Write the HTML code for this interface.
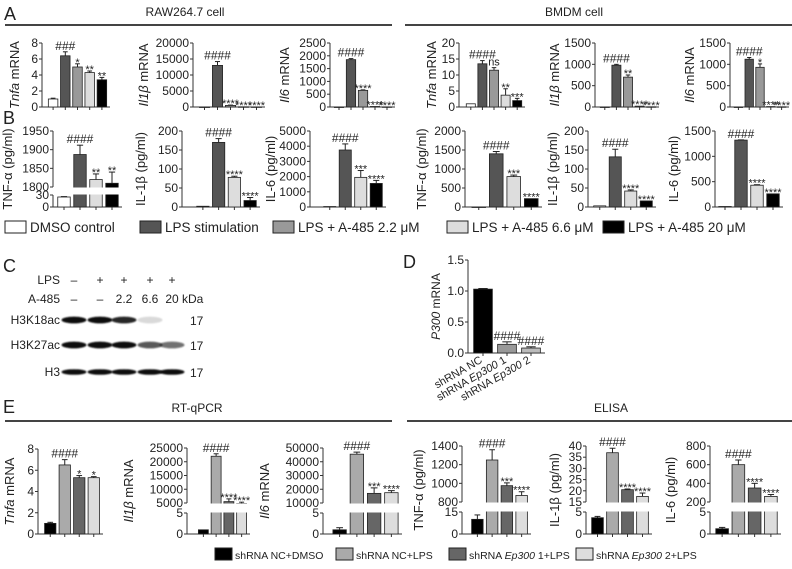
<!DOCTYPE html>
<html><head><meta charset="utf-8"><style>
html,body{margin:0;padding:0;background:#fff}
svg{display:block;font-family:"Liberation Sans",sans-serif}
</style></head><body>
<svg id="fig" width="792" height="569" viewBox="0 0 792 569" xmlns="http://www.w3.org/2000/svg">
<defs><filter id="blur" x="-20%" y="-50%" width="140%" height="200%"><feGaussianBlur stdDeviation="0.9"/></filter></defs>
</svg>
<script>
// ---- data ----
const aRawTnfa=[1,6.4,5,4.3,3.4], aRawTnfaErr=[0.1,0.5,0.4,0.2,0.3];
const aRawIl1b=[0,13000,500,60,30], aRawIl1bErr=[0,1200,100,0,0];
const aRawIl6=[0,1850,650,20,5], aRawIl6Err=[0,40,20,0,0];
const aBmTnfa=[1,13.5,11.5,3.7,2], aBmTnfaErr=[0,1,0.8,2,0.7];
const aBmIl1b=[0,980,700,20,5], aBmIl1bErr=[0,20,50,0,0];
const aBmIl6=[0,1120,930,10,5], aBmIl6Err=[0,40,80,0,0];
const bRawTnf=[25,1887,1820,1810], bRawTnfErr=[1,25,15,30];
const bRawIl1b=[2,170,78,17], bRawIl1bErr=[0,10,3,8];
const bRawIl6=[30,3750,1950,1550], bRawIl6Err=[0,400,450,200];
const bBmTnf=[0,1400,800,220], bBmTnfErr=[0,60,40,0];
const bBmIl1b=[3,132,42,16], bBmIl1bErr=[0,20,3,0];
const bBmIl6=[10,1320,430,260], bBmIl6Err=[0,5,10,0];
const dP300=[1.03,0.14,0.08], dP300Err=[0.01,0.04,0.02];
const eTnfa=[1,6.5,5.3,5.3], eTnfaErr=[0.1,0.5,0.2,0.1];
const eIl1b=[1,22000,5500,4800], eIl1bErr=[0,900,1000,500];
const eIl6=[1,45500,17000,17500], eIl6Err=[0.5,1500,4000,1500];
const eTnf=[10,1250,975,870], eTnfErr=[3,110,30,40];
const eIl1bP=[3.7,37,20.5,17.5], eIl1bPErr=[0.3,2,0.3,1.5];
const eIl6P=[1.2,600,350,260], eIl6PErr=[0.3,50,50,20];

const svg=document.getElementById('fig');
const NS='http://www.w3.org/2000/svg';
function el(tag,attrs,parent){const e=document.createElementNS(NS,tag);for(const k in attrs)e.setAttribute(k,attrs[k]);(parent||svg).appendChild(e);return e;}
function txt(s,x,y,size,opts,parent){opts=opts||{};const t=el('text',{x:x,y:y,'font-size':size,'text-anchor':opts.anchor||'start',fill:'#222'},parent);if(opts.italic)t.setAttribute('font-style','italic');if(opts.rot)t.setAttribute('transform','rotate('+opts.rot+' '+x+' '+y+')');t.textContent=s;return t;}

const C5=['#fff','#555','#999','#ddd','#000'];
const C4=['#fff','#555','#ddd','#000'];
const CE=['#000','#aaa','#666','#ddd'];

function chart(o){
  const g=el('g',{});
  
  
  const yTop=o.yTop,yBase=o.yBase,ax=o.ax,fs=o.fs||12;
  let yf;
  if(o.brk){
    const b=o.brk;
    yf=v=>v<=b.lowMax? yBase-v/b.lowMax*(yBase-b.lowTop) : b.highBot-(v-b.highMin)/(b.highMax-b.highMin)*(b.highBot-yTop);
    el('line',{x1:ax,y1:yBase,x2:ax,y2:b.lowTop,stroke:'#333','stroke-width':1},g);
    el('line',{x1:ax,y1:b.highBot,x2:ax,y2:yTop,stroke:'#333','stroke-width':1},g);
    b.lowTicks.concat(b.highTicks).forEach((t,i)=>{const y=yf(t);el('line',{x1:ax-3,y1:y,x2:ax,y2:y,stroke:'#333'},g);txt(String(t),ax-4,y+4,fs,{anchor:'end'},g);});
  } else {
    yf=v=>yBase-v/o.max*(yBase-yTop);
    el('line',{x1:ax,y1:yBase,x2:ax,y2:yTop,stroke:'#333','stroke-width':1},g);
    o.ticks.forEach((t,i)=>{const y=yf(t);el('line',{x1:ax-3,y1:y,x2:ax,y2:y,stroke:'#333'},g);txt(o.tickLabels?o.tickLabels[i]:String(t),ax-4,y+4,fs,{anchor:'end'},g);});
  }
  el('line',{x1:ax,y1:yBase,x2:o.bx1+2,y2:yBase,stroke:'#333'},g);
  const n=o.values.length,slot=(o.bx1-o.bx0)/n,bw=slot*0.78;
  o.values.forEach((v,i)=>{
    const cx=o.bx0+slot*(i+0.5),y=yf(v);
    el('line',{x1:cx,y1:yBase,x2:cx,y2:yBase+3,stroke:'#333'},g);
    const r=el('rect',{x:cx-bw/2,y:y,width:bw,height:Math.max(0.5,yBase-y),fill:o.colors[i],stroke:'#222','stroke-width':0.8},g);
    
    
    const e=o.errs[i];
    if(e>0){const ye=yf(v+e);el('line',{x1:cx,y1:y,x2:cx,y2:ye,stroke:'#222'},g);el('line',{x1:cx-bw/4,y1:ye,x2:cx+bw/4,y2:ye,stroke:'#222'},g);}
    if(o.brk && v>o.brk.lowMax){el('rect',{x:cx-bw/2-1,y:o.brk.highBot+0.5,width:bw+2,height:o.brk.lowTop-o.brk.highBot-1,fill:'#fff'},g);}
    const an=o.annots[i];
    if(an){const ay=(e>0?yf(v+e):y)-2;txt(an,cx,ay+(an[0]=='*'?4:0),an[0]=='#'?12:11,{anchor:'middle'},g);}
  });
  const lx=o.lx, ly=(yTop+yBase)/2;
  const t=el('text',{x:lx,y:ly,'font-size':o.lfs||13,'text-anchor':'middle',fill:'#222',transform:'rotate(-90 '+lx+' '+ly+')'},g);
  o.label.forEach(p=>{const s=el('tspan',{},t);if(p[1])s.setAttribute('font-style','italic');s.textContent=p[0];});
  return g;
}
const A4=['','####','****','****','****'];
// Panel A
chart({name:'a-raw-tnfa',ax:42,yTop:43,yBase:107,bx0:47,bx1:108,max:8,ticks:[0,2,4,6,8],values:aRawTnfa,errs:aRawTnfaErr,colors:C5,annots:['','###','*','**','**'],lx:19,label:[['Tnfa',1],[' mRNA',0]]});
chart({name:'a-raw-il1b',ax:193,yTop:43,yBase:107,bx0:198,bx1:263,max:20000,ticks:[0,5000,10000,15000,20000],values:aRawIl1b,errs:aRawIl1bErr,colors:C5,annots:A4,lx:148,label:[['Il1β',1],[' mRNA',0]]});
chart({name:'a-raw-il6',ax:330,yTop:43,yBase:107,bx0:333,bx1:393,max:2500,ticks:[0,500,1000,1500,2000,2500],values:aRawIl6,errs:aRawIl6Err,colors:C5,annots:A4,lx:289,label:[['Il6',1],[' mRNA',0]]});
chart({name:'a-bm-tnfa',ax:459,yTop:43,yBase:107,bx0:465,bx1:523,max:20,ticks:[0,5,10,15,20],values:aBmTnfa,errs:aBmTnfaErr,colors:C5,annots:['','####','ns','**','***'],lx:436,label:[['Tnfa',1],[' mRNA',0]]});
chart({name:'a-bm-il1b',ax:595,yTop:43,yBase:107,bx0:599,bx1:657,max:1500,ticks:[0,500,1000,1500],values:aBmIl1b,errs:aBmIl1bErr,colors:C5,annots:['','####','**','****','****'],lx:559,label:[['Il1β',1],[' mRNA',0]]});
chart({name:'a-bm-il6',ax:730,yTop:43,yBase:107,bx0:733,bx1:787,max:1500,ticks:[0,500,1000,1500],values:aBmIl6,errs:aBmIl6Err,colors:C5,annots:['','####','*','****','****'],lx:694,label:[['Il6',1],[' mRNA',0]]});
// Panel B
chart({name:'b-raw-tnf',ax:53,yTop:131,yBase:207,bx0:56,bx1:120,brk:{lowMax:30,lowTop:195,highBot:187,highMin:1800,highMax:1950,lowTicks:[0,30],highTicks:[1800,1850,1900,1950]},values:bRawTnf,errs:bRawTnfErr,colors:C4,annots:['','####','**','**'],lx:12,label:[['TNF-α (pg/ml)',0]]});
chart({name:'b-raw-il1b',ax:182,yTop:131,yBase:207,bx0:195,bx1:258,max:200,ticks:[0,50,100,150,200],values:bRawIl1b,errs:bRawIl1bErr,colors:C4,annots:['','####','****','****'],lx:145,label:[['IL-1β (pg/ml)',0]]});
chart({name:'b-raw-il6',ax:310,yTop:131,yBase:207,bx0:322,bx1:384,max:5000,ticks:[0,1000,2000,3000,4000,5000],values:bRawIl6,errs:bRawIl6Err,colors:C4,annots:['','####','***','****'],lx:275,label:[['IL-6 (pg/ml)',0]]});
chart({name:'b-bm-tnf',ax:465,yTop:131,yBase:207,bx0:470,bx1:540,max:2000,ticks:[0,500,1000,1500,2000],values:bBmTnf,errs:bBmTnfErr,colors:C4,annots:['','####','***','****'],lx:426,label:[['TNF-α (pg/ml)',0]]});
chart({name:'b-bm-il1b',ax:588,yTop:131,yBase:207,bx0:592,bx1:654,max:200,ticks:[0,50,100,150,200],values:bBmIl1b,errs:bBmIl1bErr,colors:C4,annots:['','####','****','****'],lx:557,label:[['IL-1β (pg/ml)',0]]});
chart({name:'b-bm-il6',ax:715,yTop:131,yBase:207,bx0:717,bx1:781,max:1500,ticks:[0,500,1000,1500],values:bBmIl6,errs:bBmIl6Err,colors:C4,annots:['','####','****','****'],lx:678,label:[['IL-6 (pg/ml)',0]]});
// Panel D
const dg=chart({name:'d-p300',ax:468,yTop:260,yBase:353,bx0:471,bx1:543,max:1.5,ticks:[0,0.5,1,1.5],tickLabels:['0.0','0.5','1.0','1.5'],values:dP300,errs:dP300Err,colors:['#000','#999','#bbb'],annots:['','####','####'],lx:440,lfs:12,label:[['P300',1],[' mRNA',0]]});
[['shRNA NC',''],['shRNA ','Ep300',' 1'],['shRNA ','Ep300',' 2']].forEach((p,i)=>{const cx=483+24*i,y=362;const t=el('text',{x:cx,y:y,'font-size':11,'text-anchor':'end',fill:'#222',transform:'rotate(-30 '+cx+' '+y+')'},dg);p.forEach((s,j)=>{const sp=el('tspan',{},t);if(j==1&&s)sp.setAttribute('font-style','italic');sp.textContent=s;});});
// Panel E
const E4=['','####','****','****'];
chart({name:'e-tnfa',ax:38,yTop:449,yBase:534,bx0:43,bx1:101,max:8,ticks:[0,2,4,6,8],values:eTnfa,errs:eTnfaErr,colors:CE,annots:['','####','*','*'],lx:14,label:[['Tnfa',1],[' mRNA',0]]});
chart({name:'e-il1b',ax:187,yTop:448,yBase:534,bx0:197,bx1:248,brk:{lowMax:5,lowTop:513,highBot:503,highMin:5000,highMax:25000,lowTicks:[0,5],highTicks:[5000,10000,15000,20000,25000]},values:eIl1b,errs:eIl1bErr,colors:CE,annots:E4,lx:133,label:[['Il1β',1],[' mRNA',0]]});
chart({name:'e-il6',ax:323,yTop:448,yBase:534,bx0:331,bx1:400,brk:{lowMax:5,lowTop:513,highBot:503,highMin:10000,highMax:50000,lowTicks:[0,5],highTicks:[10000,20000,30000,40000,50000]},values:eIl6,errs:eIl6Err,colors:CE,annots:['','####','***','****'],lx:269,label:[['Il6',1],[' mRNA',0]]});
chart({name:'e-tnf',ax:462,yTop:446,yBase:534,bx0:470,bx1:529,brk:{lowMax:15,lowTop:512,highBot:502,highMin:800,highMax:1400,lowTicks:[0,15],highTicks:[800,1000,1200,1400]},values:eTnf,errs:eTnfErr,colors:CE,annots:['','####','***','****'],lx:423,label:[['TNF-α (pg/ml)',0]]});
chart({name:'e-il1b-p',ax:586,yTop:446,yBase:534,bx0:590,bx1:650,brk:{lowMax:5,lowTop:512,highBot:502,highMin:15,highMax:40,lowTicks:[0,5],highTicks:[15,20,25,30,35,40]},values:eIl1bP,errs:eIl1bPErr,colors:CE,annots:E4,lx:559,label:[['IL-1β (pg/ml)',0]]});
chart({name:'e-il6-p',ax:710,yTop:446,yBase:534,bx0:714,bx1:779,brk:{lowMax:5,lowTop:512,highBot:502,highMin:200,highMax:800,lowTicks:[0,5],highTicks:[200,400,600,800]},values:eIl6P,errs:eIl6PErr,colors:CE,annots:E4,lx:675,label:[['IL-6 (pg/ml)',0]]});

// headers & panel letters
[['A',4,20],['B',3,124],['C',3,272],['D',403,268],['E',3,413]].forEach(p=>{const t=txt(p[0],p[1],p[2],18,{});});
[['RAW264.7 cell',185,16,5,392],['BMDM cell',574,16,405,792],['RT-qPCR',197,412,5,392],['ELISA',611,412,407,792]].forEach(h=>{txt(h[0],h[1],h[2],12,{anchor:'middle'});el('line',{x1:h[3],y1:h[2]+9,x2:h[4],y2:h[2]+9,stroke:'#444','stroke-width':2});});

// legend B
const leg=el('g',{});
[['DMSO control',5,'#fff'],['LPS stimulation',140,'#555'],['LPS + A-485 2.2 μM',273,'#999'],['LPS + A-485 6.6 μM',447,'#ddd'],['LPS + A-485 20 μM',603,'#000']].forEach(l=>{el('rect',{x:l[1],y:221,width:21,height:12,fill:l[2],stroke:'#222'},leg);txt(l[0],l[1]+25,232,13.5,{},leg);});
// legend E
const lege=el('g',{});
[[['shRNA NC+DMSO'],215,'#000'],[['shRNA NC+LPS'],336,'#aaa'],[['shRNA ','Ep300',' 1+LPS'],449,'#666'],[['shRNA ','Ep300',' 2+LPS'],576,'#ddd']].forEach(l=>{el('rect',{x:l[1],y:548,width:17,height:12,fill:l[2],stroke:'#222'},lege);const t=el('text',{x:l[1]+20,y:559,'font-size':10.5,fill:'#222'},lege);l[0].forEach((s,j)=>{const sp=el('tspan',{},t);if(j==1)sp.setAttribute('font-style','italic');sp.textContent=s;});});

// Panel C western blot
const wb=el('g',{});
const lanes=[74,100,124,150,172];
txt('LPS',60,284,12,{anchor:'end'},wb);txt('A-485',60,303,12,{anchor:'end'},wb);
['–','+','+','+','+'].forEach((s,i)=>txt(s,lanes[i],284,12,{anchor:'middle'},wb));
['–','–','2.2','6.6','20'].forEach((s,i)=>txt(s,lanes[i],303,12,{anchor:'middle'},wb));
txt('kDa',182,303,12,{},wb);
[['H3K18ac',320,[1,1,0.9,0.15,0]],['H3K27ac',345,[1,1,1,0.7,0.6]],['H3',372,[1,1,1,1,1]]].forEach(r=>{txt(r[0],60,r[1]+4,12,{anchor:'end'},wb);txt('17',190,r[1]+5,12,{},wb);r[2].forEach((a,i)=>{if(a>0)el('ellipse',{cx:lanes[i],cy:r[1],rx:12.5,ry:r[0]=='H3'?2.8:3.4,fill:'#111','fill-opacity':a,filter:'url(#blur)'},wb);});});
</script>
</body></html>
